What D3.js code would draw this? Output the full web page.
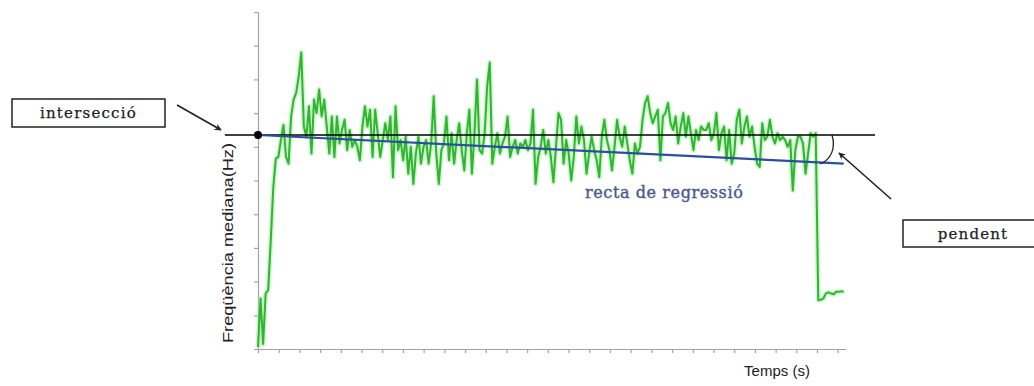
<!DOCTYPE html>
<html>
<head>
<meta charset="utf-8">
<script src="https://cdn.jsdelivr.net/npm/d3@7"></script>
<style>
  body { margin: 0; background: #fff; }
  svg { display: block; }
</style>
</head>
<body>
<svg id="chart" width="1034" height="386"></svg>
<script>
// Median frequency (Hz) of each analysis window, in time order
const freqValues = [
  0.6, 15, 1.5, 16.5, 17.5, 32, 48, 56.5, 57, 62, 66.5, 57, 55, 69, 74, 76, 81, 88,
  66, 63, 72, 58, 74, 70, 77, 69, 74, 66, 58, 69, 57, 69, 61, 65, 68, 59, 65, 60, 62, 60,
  56, 66, 72, 66, 71, 57, 71, 64, 57, 62, 67, 62, 69, 51, 72, 59, 62, 56, 63,
  52, 60, 49, 58, 63, 55, 60, 62, 55, 61, 75, 58, 49, 59, 61, 69, 56, 64, 55, 62,
  67, 59, 53, 64, 71, 52, 64, 80, 59, 58, 64, 78, 85, 55, 60, 64, 58, 61, 63, 69,
  57, 60, 62, 58, 61, 60, 62, 59, 61, 71, 49, 57, 60, 65, 58, 62, 57, 49.5,
  60, 70, 68, 55, 62, 58, 50, 57, 69, 61, 66, 62, 52, 58, 63, 59, 56, 51, 63, 68,
  62, 59, 53, 60, 68, 63, 60, 66, 61, 56, 52, 61, 58, 60, 68, 73, 75, 70, 67, 69,
  71, 56, 69, 70, 73, 67, 65, 69, 61, 66, 70, 63, 69, 64, 59, 65,
  62, 66, 65, 65, 67, 62, 64, 70, 59, 64, 66, 56, 65, 55, 58, 68, 71, 61, 66, 69,
  63, 66, 60, 55, 54, 67, 62, 63, 68, 63, 61, 64, 62, 63, 62, 60, 62, 47, 59, 63,
  63, 61, 52, 58, 64, 63, 64,
  14.5, 14.6, 15, 16.5, 16.8, 16.5, 16.2, 17, 17, 17.1, 17
];
const frameStep = 0.123;              // seconds between analysis windows

// Linear fit of the median frequency over time
const intercept = 63.5;               // Hz at t = 0
const slope = -0.30;                  // Hz per second

const xTicks = d3.range(0, 29, 1);
const yTicks = d3.range(0, 101, 10);

const xTitle = "Temps (s)";
const yTitle = "Freqüència mediana(Hz)";
const fitLabel = "recta de regressió";
const interceptLabel = "intersecció";
const slopeLabel = "pendent";

const svg = d3.select("#chart");

const x = d3.scaleLinear().domain([0, 28.4]).range([258, 846]);
const y = d3.scaleLinear().domain([0, 100]).range([349, 12]);

// Axes (ticks only, no numbers)
const axisColor = "#a3a3a3";
const gy = svg.append("g")
  .attr("transform", `translate(${x(0)},0)`)
  .call(d3.axisLeft(y).tickValues(yTicks).tickSize(4).tickSizeOuter(0).tickFormat(""));
const gx = svg.append("g")
  .attr("transform", `translate(0,${y(0)})`)
  .call(d3.axisBottom(x).tickValues(xTicks).tickSize(4).tickSizeOuter(0).tickFormat(""));
[gx, gy].forEach(g => {
  g.selectAll("path, line").attr("stroke", axisColor).attr("stroke-width", 1.2);
});

// Median frequency trace
const trace = d3.line()
  .x((d, i) => x(i * frameStep))
  .y(d => y(d));

svg.append("path")
  .datum(freqValues)
  .attr("d", trace)
  .attr("fill", "none")
  .attr("stroke", "#8fe88f")
  .attr("stroke-width", 5)
  .attr("stroke-opacity", 0.45)
  .attr("stroke-linejoin", "round");

svg.append("path")
  .datum(freqValues)
  .attr("d", trace)
  .attr("fill", "none")
  .attr("stroke", "#30b530")
  .attr("stroke-width", 2)
  .attr("stroke-linejoin", "round");

// Horizontal reference at the intercept
svg.append("line")
  .attr("x1", x(-1.6)).attr("x2", x(29.8))
  .attr("y1", y(intercept)).attr("y2", y(intercept))
  .attr("stroke", "#000").attr("stroke-width", 1.6);

// Regression line
const tEnd = (freqValues.length - 1) * frameStep;
svg.append("line")
  .attr("x1", x(0)).attr("y1", y(intercept))
  .attr("x2", x(tEnd)).attr("y2", y(intercept + slope * tEnd))
  .attr("stroke", "#2a4f9c").attr("stroke-width", 2.2);

svg.append("circle")
  .attr("cx", x(0)).attr("cy", y(intercept)).attr("r", 4)
  .attr("fill", "#000");

// Angle arc between the two lines
svg.append("path")
  .attr("d", "M832,135 C836,148 831,160 820,164")
  .attr("fill", "none").attr("stroke", "#222").attr("stroke-width", 1.3);

// Arrow marker
svg.append("defs").append("marker")
  .attr("id", "head")
  .attr("viewBox", "0 0 10 10")
  .attr("refX", 9).attr("refY", 5)
  .attr("markerWidth", 7).attr("markerHeight", 7)
  .attr("markerUnits", "userSpaceOnUse")
  .attr("orient", "auto")
  .append("path")
  .attr("d", "M0,0 L10,5 L0,10 L3,5 Z")
  .attr("fill", "#222");

svg.append("line")
  .attr("x1", 177).attr("y1", 105).attr("x2", 221).attr("y2", 130)
  .attr("stroke", "#222").attr("stroke-width", 1.6)
  .attr("marker-end", "url(#head)");

svg.append("line")
  .attr("x1", 891).attr("y1", 199).attr("x2", 839).attr("y2", 153)
  .attr("stroke", "#222").attr("stroke-width", 1.6)
  .attr("marker-end", "url(#head)");

// Labelled boxes
function box(x0, y0, w, h, label) {
  svg.append("rect")
    .attr("x", x0).attr("y", y0).attr("width", w).attr("height", h)
    .attr("fill", "#fff").attr("stroke", "#222").attr("stroke-width", 1.5);
  svg.append("text")
    .attr("x", x0 + w / 2).attr("y", y0 + h / 2)
    .attr("text-anchor", "middle").attr("dominant-baseline", "central")
    .attr("font-family", "DejaVu Serif, serif").attr("font-size", 15)
    .attr("letter-spacing", 1.2)
    .attr("fill", "#222")
    .attr("stroke", "#222").attr("stroke-width", 0.25)
    .text(label);
}
box(12, 99, 153, 28, interceptLabel);
box(903, 220, 140, 27, slopeLabel);

// Regression line caption
svg.append("text")
  .attr("x", 585).attr("y", 198)
  .attr("font-family", "DejaVu Serif, serif").attr("font-size", 16)
  .attr("letter-spacing", 0.6)
  .attr("fill", "#4b5a8c")
  .attr("stroke", "#4b5a8c").attr("stroke-width", 0.4)
  .text(fitLabel);

// Axis titles
svg.append("text")
  .attr("x", 777).attr("y", 376)
  .attr("text-anchor", "middle")
  .attr("font-family", "Liberation Sans, Arial, sans-serif").attr("font-size", 15)
  .attr("fill", "#222")
  .text(xTitle);

svg.append("text")
  .attr("transform", "translate(233,143) rotate(-90)")
  .attr("text-anchor", "end")
  .attr("textLength", 200)
  .attr("lengthAdjust", "spacingAndGlyphs")
  .attr("font-family", "Liberation Sans, Arial, sans-serif").attr("font-size", 15)
  .attr("fill", "#222")
  .text(yTitle);
</script>
</body>
</html>
